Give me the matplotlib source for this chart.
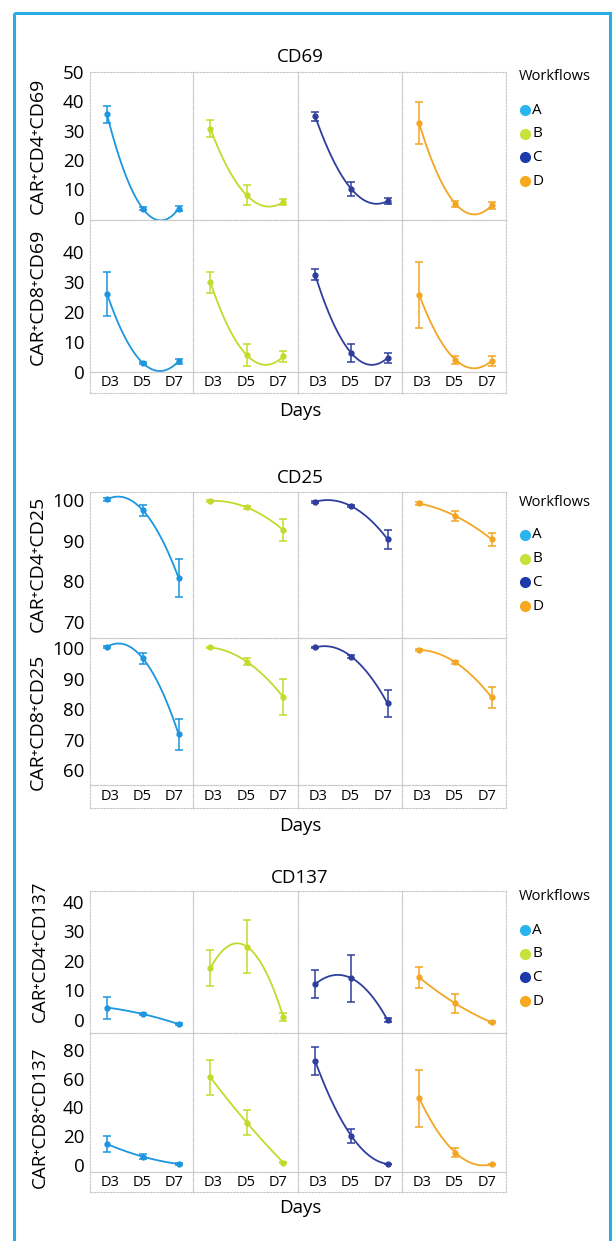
import numpy as np
import matplotlib
matplotlib.use('Agg')
import matplotlib.pyplot as plt
from matplotlib.patches import Rectangle

plt.rcParams['font.family'] = ['Open Sans', 'DejaVu Sans']

# ---------------- data ----------------
days = ['D3', 'D5', 'D7']
day_num = [3, 5, 7]
workflows = ['A', 'B', 'C', 'D']
colors = ['#1C96DE', '#C3DA2C', '#2F3E9C', '#F2A623']
legend_colors = ['#2AB4EE', '#C7E23A', '#1E3AA8', '#F6A91E']

# rows: workflows A, B, C, D ; columns: D3, D5, D7
cd69_cd4_mean = [[35.5, 3.3, 3.3], [30.6, 7.8, 5.6], [34.8, 10.0, 5.9], [32.4, 5.0, 4.4]]
cd69_cd4_err = [[2.8, 0.5, 0.8], [3.0, 3.4, 1.1], [1.5, 2.4, 1.1], [7.2, 1.0, 1.2]]
cd69_cd8_mean = [[26.1, 3.0, 3.6], [30.0, 5.6, 5.2], [32.4, 6.3, 4.7], [25.8, 4.1, 3.7]]
cd69_cd8_err = [[7.4, 0.4, 0.8], [3.5, 3.6, 1.7], [1.8, 2.9, 1.7], [11.0, 1.3, 1.7]]

cd25_cd4_mean = [[100.2, 97.5, 80.8], [99.8, 98.2, 92.6], [99.6, 98.5, 90.4], [99.2, 96.1, 90.4]]
cd25_cd4_err = [[0.3, 1.4, 4.7], [0.2, 0.3, 2.7], [0.3, 0.3, 2.3], [0.3, 1.2, 1.6]]
cd25_cd8_mean = [[100.5, 96.7, 71.7], [100.3, 95.6, 83.9], [100.3, 97.3, 81.9], [99.5, 95.4, 83.9]]
cd25_cd8_err = [[0.3, 1.8, 5.1], [0.2, 1.2, 5.9], [0.2, 0.4, 4.4], [0.4, 0.5, 3.4]]

cd137_cd4_mean = [[4.2, 2.0, -1.4], [17.5, 24.8, 0.9], [12.1, 14.1, 0.0], [14.4, 5.6, -0.8]]
cd137_cd4_err = [[3.7, 0.3, 0.4], [6.0, 9.0, 1.3], [4.7, 8.0, 0.6], [3.5, 3.3, 0.3]]
cd137_cd8_mean = [[14.6, 5.8, 0.7], [61.0, 29.4, 1.6], [72.3, 20.2, 0.7], [46.4, 8.6, 0.5]]
cd137_cd8_err = [[5.4, 1.5, 0.4], [12.0, 8.5, 0.3], [9.7, 5.0, 0.3], [19.8, 3.2, 0.3]]

titles = ['CD69', 'CD25', 'CD137']
row_labels = [['CAR\u207aCD4\u207aCD69', 'CAR\u207aCD8\u207aCD69'],
              ['CAR\u207aCD4\u207aCD25', 'CAR\u207aCD8\u207aCD25'],
              ['CAR\u207aCD4\u207aCD137', 'CAR\u207aCD8\u207aCD137']]
yticks = [[[0, 10, 20, 30, 40, 50], [0, 10, 20, 30, 40]],
          [[70, 80, 90, 100], [60, 70, 80, 90, 100]],
          [[0, 10, 20, 30, 40], [0, 20, 40, 60, 80]]]
means = [[cd69_cd4_mean, cd69_cd8_mean], [cd25_cd4_mean, cd25_cd8_mean], [cd137_cd4_mean, cd137_cd8_mean]]
errs = [[cd69_cd4_err, cd69_cd8_err], [cd25_cd4_err, cd25_cd8_err], [cd137_cd4_err, cd137_cd8_err]]

# ---------------- layout (pixels) ----------------
W, H = 613, 1241
cols = [90, 193, 298, 402, 506]
sec_top = [72, 492, 891]
sec_mid = [220, 638, 1033]
sec_bot = [372, 785, 1172]
sec_box = [393, 808, 1192]
title_y = [57, 478, 878]
days_y = [411, 826, 1208]
label_y = [[146, 297], [564, 722], [951, 1117]]
label_x = [38, 38, 40]
ylims = [[(-0.57, 49.9), (0, 50.7)],
         [(66.1, 102.0), (55.1, 103.4)],
         [(-4.4, 43.6), (-4.9, 91.8)]]
legend_title_y = [77, 502, 897]

grid_col = '#c9c9c9'


def fx(x):
    return x / W


def fy(y):
    return 1 - y / H


fig = plt.figure(figsize=(W / 100, H / 100), dpi=100)
fig.patch.set_facecolor('white')

ov = fig.add_axes([0, 0, 1, 1])
ov.set_xlim(0, W)
ov.set_ylim(H, 0)
ov.axis('off')
ov.add_patch(Rectangle((13.5, 12.5), 596.5, 1240, fill=False, edgecolor='#2AABE2', lw=2.2))


def style_spines(ax):
    for sp in ax.spines.values():
        sp.set_color(grid_col)
        sp.set_linewidth(0.8)
        sp.set_linestyle((0, (1.5, 1.5)))


xs = np.linspace(3, 7, 120)
for s in range(3):
    tops = [sec_top[s], sec_mid[s]]
    bots = [sec_mid[s], sec_bot[s]]
    for r in range(2):
        for c in range(4):
            l, rr = cols[c], cols[c + 1]
            ax = fig.add_axes([fx(l), fy(bots[r]), (rr - l) / W, (bots[r] - tops[r]) / H])
            ax.set_facecolor('none')
            style_spines(ax)
            m = means[s][r][c]
            e = errs[s][r][c]
            coef = np.polyfit(day_num, m, 2)
            ax.plot(xs, np.polyval(coef, xs), color=colors[c], lw=1.3, zorder=2)
            ax.errorbar(day_num, m, yerr=e, fmt='o', ms=3.5, color=colors[c], ecolor=colors[c],
                        elinewidth=1.1, capsize=3.2, capthick=1.1, zorder=3)
            ax.set_xlim(2.05, 7.8)
            ax.set_ylim(*ylims[s][r])
            ax.set_xticks([])
            if c == 0:
                ax.set_yticks(yticks[s][r])
                ax.tick_params(axis='y', length=0, pad=4, labelsize=13.5)
            else:
                ax.set_yticks([])
        # label
        fig.text(fx(label_x[s]), fy(label_y[s][r]), row_labels[s][r], rotation=90,
                 ha='center', va='center', fontsize=14 if s < 2 else 13.5)
    # tick label boxes
    for c in range(4):
        l, rr = cols[c], cols[c + 1]
        bx = fig.add_axes([fx(l), fy(sec_box[s]), (rr - l) / W, (sec_box[s] - sec_bot[s]) / H])
        bx.set_facecolor('none')
        style_spines(bx)
        bx.set_xlim(1.75, 8.2)
        bx.set_ylim(0, 1)
        bx.set_xticks([])
        bx.set_yticks([])
        for d, lab in zip(day_num, days):
            bx.text(d, 0.5, lab, ha='center', va='center', fontsize=10.5)
    fig.text(fx(300), fy(title_y[s]), titles[s], ha='center', va='center', fontsize=13.5)
    fig.text(fx(300), fy(days_y[s]), 'Days', ha='center', va='center', fontsize=13.5)
    # legend
    ov.text(519, legend_title_y[s], 'Workflows', ha='left', va='center', fontsize=10.5)
    for i, w in enumerate(workflows):
        yy = legend_title_y[s] + 33 + 23.7 * i
        ov.plot([525], [yy], 'o', ms=7, color=legend_colors[i])
        ov.text(532, yy, w, ha='left', va='center', fontsize=11)

fig.savefig('out.png', dpi=100)
